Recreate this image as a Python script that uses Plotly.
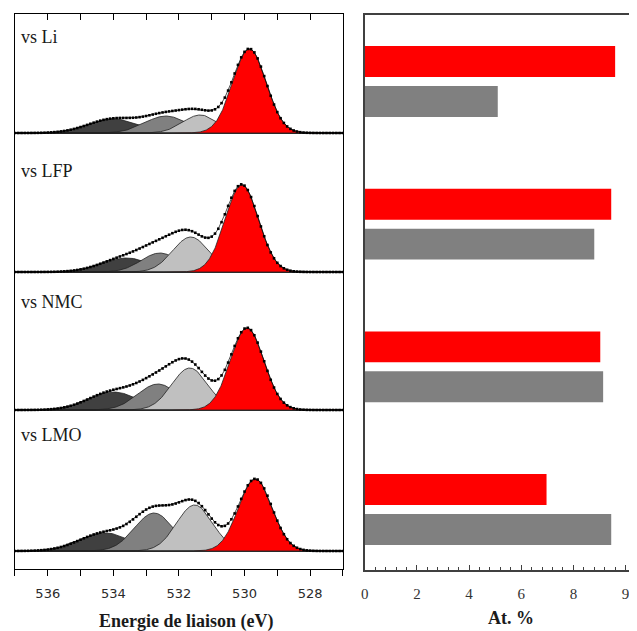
import numpy as np
import plotly.graph_objects as go

# ---------------- data ----------------
samples = ["vs Li", "vs LFP", "vs NMC", "vs LMO"]

# O 1s fitted components (order: dark, medium, light gray, red)
li_center = [534.0, 532.4, 531.35, 529.85]
li_height = [14, 17, 18, 84]
li_fwhm = [1.8, 1.5, 1.25, 1.2]

lfp_center = [533.6, 532.58, 531.64, 530.08]
lfp_height = [14, 19, 35, 87]
lfp_fwhm = [1.8, 1.35, 1.3, 1.2]

nmc_center = [534.0, 532.64, 531.67, 529.92]
nmc_height = [18, 26, 42, 82]
nmc_fwhm = [1.8, 1.45, 1.3, 1.2]

lmo_center = [534.24, 532.76, 531.52, 529.67]
lmo_height = [18, 38, 46, 72]
lmo_fwhm = [1.85, 1.4, 1.3, 1.2]

# At. % bars
bar_categories = ["Li", "LFP", "NMC", "LMO"]
red_values = [9.6, 9.45, 9.03, 6.97]
gray_values = [5.1, 8.8, 9.14, 9.45]

energy_ticks = [536, 534, 532, 530, 528]
at_tickvals = [0, 2, 4, 6, 8, 10]
at_ticktext = ["0", "2", "4", "6", "8", "9"]

# ---------------- layout constants ----------------
PAGE_OFF = 8                 # default body margin of the html page
WIN_W, WIN_H = 637, 631
W, H = WIN_W - PAGE_OFF, WIN_H - PAGE_OFF


def px(v):
    return v - PAGE_OFF


offsets = [436, 297, 159, 18]          # vertical stacking of spectra
label_y = [532, 398, 267, 134]
comp_colors = ["#404040", "#808080", "#C0C0C0", "#FF0000"]

params = [
    (li_center, li_height, li_fwhm),
    (lfp_center, lfp_height, lfp_fwhm),
    (nmc_center, nmc_height, nmc_fwhm),
    (lmo_center, lmo_height, lmo_fwhm),
]


def gauss(e, c, h, fw):
    s = fw / 2.3548
    return h * np.exp(-0.5 * ((e - c) / s) ** 2)


fig = go.Figure()

e_fine = np.linspace(527, 537, 801)
e_pts = np.arange(527.0, 537.001, 0.1)

for (cs, hs, fws), off in zip(params, offsets):
    fig.add_trace(go.Scatter(x=[527, 537], y=[off, off], mode="lines",
                             line=dict(color="black", width=1),
                             xaxis="x", yaxis="y", showlegend=False, hoverinfo="skip"))
    for c, h, fw, col in zip(cs, hs, fws, comp_colors):
        yv = off + gauss(e_fine, c, h, fw)
        xx = np.concatenate([e_fine, e_fine[::-1]])
        yy = np.concatenate([yv, np.full_like(e_fine, off)])
        fig.add_trace(go.Scatter(x=xx, y=yy, mode="lines", fill="toself",
                                 fillcolor=col, line=dict(color="#222222", width=0.8),
                                 xaxis="x", yaxis="y", showlegend=False, hoverinfo="skip"))
    env = off + sum(gauss(e_pts, c, h, fw) for c, h, fw in zip(cs, hs, fws))
    fig.add_trace(go.Scatter(x=e_pts, y=env, mode="lines+markers",
                             line=dict(color="black", width=0.7),
                             marker=dict(color="black", size=2.6, symbol="square"),
                             xaxis="x", yaxis="y", showlegend=False, hoverinfo="skip"))

for s, ly in zip(samples, label_y):
    fig.add_annotation(x=536.88, y=ly, xref="x", yref="y", text=s, showarrow=False,
                       xanchor="left", yanchor="middle",
                       font=dict(family="Liberation Serif", size=18, color="#1a1a1a"))

# bars
fig.add_trace(go.Bar(y=bar_categories, x=red_values, orientation="h",
                     marker=dict(color="#FF0000", line=dict(width=0)),
                     xaxis="x2", yaxis="y2", showlegend=False))
fig.add_trace(go.Bar(y=bar_categories, x=gray_values, orientation="h",
                     marker=dict(color="#808080", line=dict(width=0)),
                     xaxis="x2", yaxis="y2", showlegend=False))

Lx0, Lx1 = px(11) / W, px(341) / W
Ly0, Ly1 = (H - px(569)) / H, (H - px(14)) / H
Rx0, Rx1 = px(363) / W, 1.0
Ry0, Ry1 = (H - px(570)) / H, (H - px(15)) / H

fig.update_layout(
    width=W, height=H, margin=dict(l=0, r=0, t=0, b=0),
    paper_bgcolor="white", plot_bgcolor="white",
    barmode="group", bargap=0.44, bargroupgap=0.225,
    xaxis=dict(domain=[Lx0, Lx1], range=[537, 527], showgrid=False, zeroline=False,
               showline=True, linecolor="black", linewidth=1.2, mirror=True,
               ticks="outside", ticklen=6, tickwidth=1.2, tickcolor="black",
               tickvals=energy_ticks, ticktext=[str(t) for t in energy_ticks],
               minor=dict(dtick=1, ticks="outside", ticklen=6, tickwidth=1.2, tickcolor="black"),
               tickfont=dict(family="DejaVu Sans", size=13, color="#2a2a2a"),
               ticklabelstandoff=6, anchor="y"),
    xaxis3=dict(overlaying="x", matches="x", side="top", range=[537, 527],
                showgrid=False, zeroline=False, showline=False, showticklabels=False,
                ticks="inside", ticklen=6, tickwidth=1.2, tickcolor="black", dtick=1,
                anchor="y"),
    yaxis=dict(domain=[Ly0, Ly1], range=[0, 555], showgrid=False, zeroline=False,
               showline=True, linecolor="black", linewidth=1.2, mirror=True,
               showticklabels=False, ticks="", anchor="x"),
    xaxis2=dict(domain=[Rx0, Rx1], range=[0, (WIN_W - 363) / 26.25], showgrid=False,
                zeroline=False, showline=True, linecolor="#404040", linewidth=1.5,
                mirror=True, ticks="inside", ticklen=5, tickwidth=1.2, tickcolor="#404040",
                tickvals=at_tickvals, ticktext=at_ticktext,
                minor=dict(dtick=0.4, ticks="inside", ticklen=3, tickwidth=1, tickcolor="#404040"),
                tickfont=dict(family="Liberation Serif", size=15, color="#333333"),
                ticklabelstandoff=9, anchor="y2"),
    yaxis2=dict(domain=[Ry0, Ry1], type="category", range=[3.424, -0.466],
                showgrid=False, zeroline=False, showline=True, linecolor="#404040",
                linewidth=1.5, mirror=False, showticklabels=False, ticks="", anchor="x2"),
)

fig.add_trace(go.Scatter(x=[537], y=[-10], mode="markers", marker=dict(opacity=0),
                         xaxis="x3", yaxis="y", showlegend=False, hoverinfo="skip"))

fig.add_annotation(x=px(183) / W, y=(H - px(621)) / H, xref="paper", yref="paper",
                   text="<b>Energie de liaison (eV)</b>", showarrow=False,
                   xanchor="center", yanchor="middle",
                   font=dict(family="Liberation Serif", size=18, color="#1a1a1a"))
fig.add_annotation(x=px(510) / W, y=(H - px(618)) / H, xref="paper", yref="paper",
                   text="<b>At. %</b>", showarrow=False,
                   xanchor="center", yanchor="middle",
                   font=dict(family="Liberation Serif", size=18, color="#1a1a1a"))

fig.write_html("out.html")
